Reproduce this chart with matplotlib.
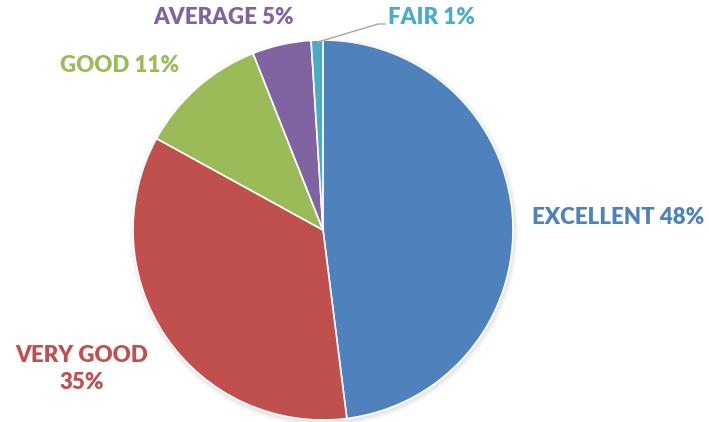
import matplotlib

matplotlib.use("Agg")
import matplotlib.pyplot as plt

# --- data ---------------------------------------------------------------
categories = ["EXCELLENT", "VERY GOOD", "GOOD", "AVERAGE", "FAIR"]
shares = [48, 35, 11, 5, 1]
colors = ["#4F81BD", "#C0504D", "#9BBB59", "#8064A2", "#4BACC6"]

W, H = 709, 422
fig = plt.figure(figsize=(W / 100, H / 100), dpi=100)
ax = fig.add_axes([0, 0, 1, 1])

cx, cy, r = 323, H - 230, 190

# faint shadow behind the pie
for i, a in enumerate([0.04, 0.03, 0.02]):
    ax.add_patch(plt.Circle((cx + 1, cy - 2), r + 1.5 + i * 1.5, color="k", alpha=a, lw=0))

ax.pie(shares, colors=colors, startangle=90, counterclock=False,
       center=(cx, cy), radius=r, frame=True,
       wedgeprops=dict(edgecolor="white", linewidth=1.2))
ax.set_xlim(0, W)
ax.set_ylim(0, H)
ax.set_aspect("equal")
ax.axis("off")

font = dict(family=["Lato", "DejaVu Sans"], fontweight="heavy", fontsize=16)

# label positions in pixel coords (y measured from top)
label_pos = {
    "EXCELLENT": (618, 218),
    "VERY GOOD": (82, 369),
    "GOOD": (120, 66),
    "AVERAGE": (224, 18),
    "FAIR": (431, 18),
}
for name, val, col in zip(categories, shares, colors):
    x, y = label_pos[name]
    txt = f"{name}\n{val}%" if name == "VERY GOOD" else f"{name} {val}%"
    ax.text(x, H - y, txt, color=col, ha="center", va="center",
            linespacing=1.4, **font)

# leader line for the tiny FAIR slice
ax.plot([318, 378, 385], [H - 42, H - 24, H - 24], color="#A6A6A6", lw=1)

fig.savefig("out.png", dpi=100)
